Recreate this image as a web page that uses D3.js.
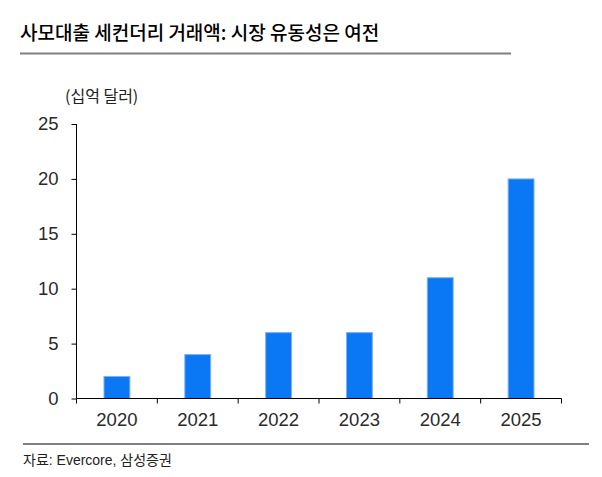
<!DOCTYPE html>
<html>
<head>
<meta charset="utf-8">
<title>사모대출 세컨더리 거래액</title>
<script src="https://d3js.org/d3.v7.min.js"></script>
<style>
  body { margin: 0; background: #fff; }
  text { font-family: "Liberation Sans", "Noto Sans CJK KR", sans-serif; }
  .kr { font-family: "Noto Sans CJK KR", sans-serif; }
</style>
</head>
<body>
<div id="chart"></div>
<script>
// data
var years = ["2020", "2021", "2022", "2023", "2024", "2025"];
var volume = [2, 4, 6, 6, 11, 20];   // 십억 달러
var yTicks = [0, 5, 10, 15, 20, 25];

var width = 602, height = 477;

var svg = d3.select("#chart").append("svg")
  .attr("width", width)
  .attr("height", height);

// title + rule
svg.append("text")
  .attr("class", "kr")
  .attr("x", 20)
  .attr("y", 40)
  .style("font-size", "19px")
  .style("font-weight", "500")
  .attr("fill", "#000")
  .text("사모대출 세컨더리 거래액: 시장 유동성은 여전");

svg.append("line")
  .attr("x1", 20).attr("x2", 511)
  .attr("y1", 53.5).attr("y2", 53.5)
  .attr("stroke", "#808080").attr("stroke-width", 2);

// unit label
svg.append("text")
  .attr("class", "kr")
  .attr("x", 65)
  .attr("y", 102)
  .style("font-size", "16px")
  .attr("fill", "#222")
  .text("(십억 달러)");

// scales
var x = d3.scaleBand()
  .domain(years)
  .range([76.5, 561.5])
  .paddingInner(0.68)
  .paddingOuter(0.34);

var y = d3.scaleLinear()
  .domain([0, 25])
  .range([398.5, 124]);

// bars
svg.append("g")
  .selectAll("rect")
  .data(volume)
  .enter()
  .append("rect")
    .attr("x", function(d, i) { return x(years[i]); })
    .attr("width", x.bandwidth())
    .attr("y", function(d) { return y(d); })
    .attr("height", function(d) { return y(0) - y(d); })
    .attr("fill", "#0A77F5")
    .attr("stroke", "#7DB0F7")
    .attr("stroke-width", 1);

// y axis
var yAxis = svg.append("g")
  .attr("transform", "translate(76.5,0)")
  .call(d3.axisLeft(y).tickValues(yTicks).tickSize(5).tickPadding(13));
yAxis.selectAll("text").style("font-size", "18.5px").attr("fill", "#2a2a2a");
yAxis.selectAll("line").attr("stroke", "#000");
yAxis.select(".domain").attr("stroke", "#000").attr("d", "M0,398.5V124");

// x axis with ticks on band edges
var step = x.step();
var xAxis = svg.append("g")
  .attr("transform", "translate(0,398.5)");
xAxis.append("line")
  .attr("x1", 76.5).attr("x2", 561.5)
  .attr("stroke", "#000");
xAxis.selectAll(".edge")
  .data(d3.range(years.length + 1))
  .enter().append("line")
    .attr("class", "edge")
    .attr("x1", function(i) { return x.range()[0] + i * step; })
    .attr("x2", function(i) { return x.range()[0] + i * step; })
    .attr("y1", 0).attr("y2", 5)
    .attr("stroke", "#000");
xAxis.selectAll(".lbl")
  .data(years)
  .enter().append("text")
    .attr("class", "lbl")
    .attr("x", function(d) { return x(d) + x.bandwidth() / 2; })
    .attr("y", 27)
    .attr("text-anchor", "middle")
    .style("font-size", "18.5px")
    .attr("fill", "#2a2a2a")
    .text(function(d) { return d; });

// bottom rule + source
svg.append("line")
  .attr("x1", 23).attr("x2", 589)
  .attr("y1", 444).attr("y2", 444)
  .attr("stroke", "#808080").attr("stroke-width", 2);

svg.append("text")
  .attr("x", 23)
  .attr("y", 465)
  .style("font-size", "14px")
  .attr("fill", "#222")
  .text("자료: Evercore, 삼성증권");
</script>
</body>
</html>
